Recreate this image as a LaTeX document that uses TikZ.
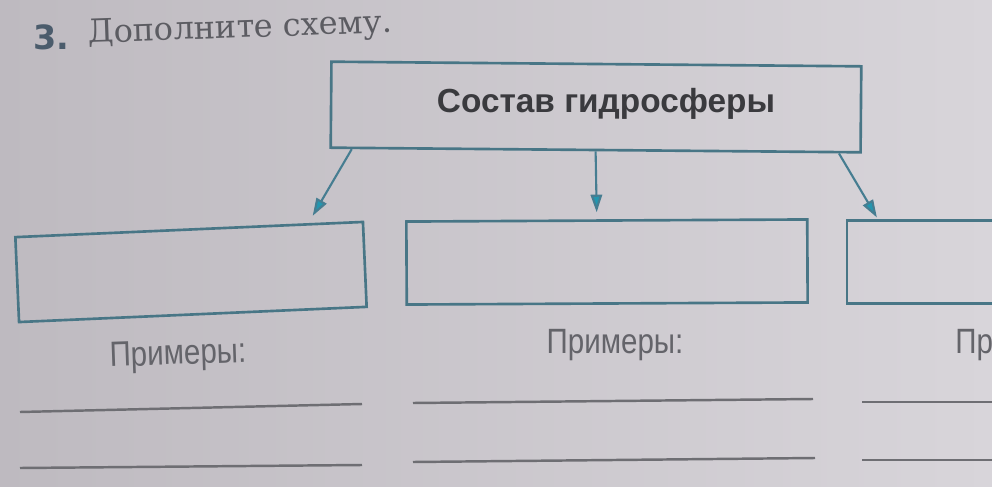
\documentclass[tikz,border=0pt]{standalone}
\usepackage{fontspec}
\setmainfont{Liberation Sans}
\newfontfamily\titlefont{DejaVu Serif}
\newfontfamily\numfont{DejaVu Sans}
\newfontfamily\narrowfont[FakeStretch=0.84]{Liberation Sans}
\usetikzlibrary{arrows.meta,calc}
\definecolor{paper}{RGB}{216,213,218}
\definecolor{paperdark}{RGB}{190,186,192}
\definecolor{boxline}{RGB}{72,118,134}
\definecolor{arrline}{RGB}{70,125,145}
\definecolor{arrtip}{RGB}{35,150,175}
\definecolor{headcol}{RGB}{58,58,62}
\definecolor{graytxt}{RGB}{100,100,106}
\definecolor{titlecol}{RGB}{92,92,98}
\definecolor{numcol}{RGB}{75,92,108}
\definecolor{linecol}{RGB}{110,110,115}
\tikzset{
  box/.style={draw=boxline, line width=1.5pt, inner sep=0pt},
  arr/.style={draw=arrline, line width=1.2pt, -{Triangle[length=10pt,width=6.5pt,fill=arrtip]}},
  headtxt/.style={text=headcol, font=\fontsize{19}{22}\selectfont\bfseries, inner sep=0pt},
  extxt/.style={text=graytxt, font=\fontsize{20}{23}\selectfont\narrowfont, inner sep=0pt},
  ansline/.style={draw=linecol, line width=1.4pt},
  titletxt/.style={text=titlecol, font=\fontsize{18.2}{21}\selectfont\titlefont, inner sep=0pt},
  numtxt/.style={text=numcol, font=\fontsize{19}{22}\selectfont\numfont\bfseries, inner sep=0pt}
}
\begin{document}
\begin{tikzpicture}[x=0.02cm,y=-0.02cm]
\fill[left color=paperdark, right color=paper] (0,0) rectangle (992,487);
\useasboundingbox (0,0) rectangle (992,487);
\clip (0,0) rectangle (992,487);
% title
\node[numtxt, anchor=base west] (num) at (33,49) {3.};
\node[titletxt, anchor=base west, rotate=2] (title) at (88,43) {Дополните схему.};
% boxes
\node[box, minimum width=10.6cm, minimum height=1.72cm, rotate=-0.5] (top) at (596,107) {};
\node[headtxt] (head) at (606,104) {Состав гидросферы};
\node[box, minimum width=6.96cm, minimum height=1.7cm, rotate=2.5] (b1) at (191,272) {};
\node[box, minimum width=8.02cm, minimum height=1.66cm, rotate=0.3] (b2) at (607,262) {};
\node[box, minimum width=6cm, minimum height=1.66cm] (b3) at (997,262) {};
% arrows
\draw[arr] ($(top.south west)!0.042!(top.south east)$) -- ([yshift=4pt]$(b1.north west)!0.853!(b1.north east)$);
\draw[arr] (top.south) -- ([yshift=4pt]$(b2.north west)!0.475!(b2.north east)$);
\draw[arr] ($(top.south west)!0.957!(top.south east)$) -- ([yshift=1pt]$(b3.north west)!0.103!(b3.north east)$);
% examples
\node[extxt, rotate=2] (ex1) at (178,356) {Примеры:};
\node[extxt] (ex2) at (615,345) {Примеры:};
\node[extxt, anchor=west] (ex3) at (955,345) {Примеры:};
% answer lines
\draw[ansline] (20,412) -- (362,404);
\draw[ansline] (20,468) -- (362,465);
\draw[ansline] (413,403) -- (813,399);
\draw[ansline] (413,462) -- (815,458);
\draw[ansline] (862,402) -- (992,402);
\draw[ansline] (862,460) -- (992,460);
\end{tikzpicture}
\end{document}
